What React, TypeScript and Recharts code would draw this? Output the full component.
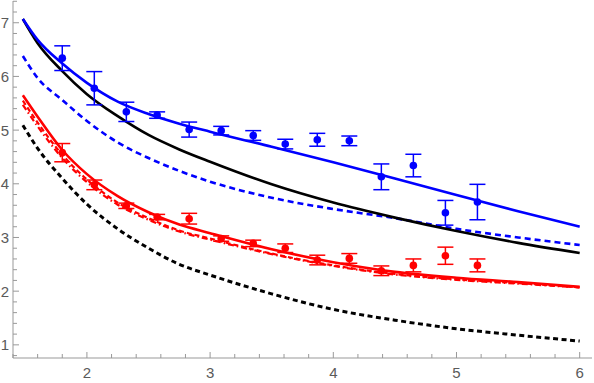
import React from "react";
import {
  ComposedChart,
  Line,
  Scatter,
  ErrorBar,
  XAxis,
  YAxis,
} from "recharts";

// Curve sample positions (x) and values
const curveX = [1.48, 1.6, 1.8, 2.0, 2.25, 2.5, 2.75, 3.0, 3.5, 4.0, 4.5, 5.0, 5.5, 6.0];
const blueSolid = [7.07, 6.68, 6.24, 5.88, 5.53, 5.3, 5.12, 4.97, 4.69, 4.4, 4.1, 3.79, 3.49, 3.2];
const blackSolid = [7.07, 6.62, 6.1, 5.67, 5.26, 4.91, 4.64, 4.41, 3.99, 3.65, 3.37, 3.12, 2.9, 2.71];
const blueDashed = [6.38, 5.97, 5.56, 5.17, 4.77, 4.48, 4.24, 4.04, 3.74, 3.53, 3.36, 3.16, 3.0, 2.86];
const redSolid = [5.65, 5.25, 4.63, 4.18, 3.77, 3.47, 3.24, 3.08, 2.78, 2.54, 2.36, 2.25, 2.17, 2.08];
const redDashed = [5.55, 5.14, 4.54, 4.08, 3.65, 3.36, 3.13, 2.98, 2.7, 2.48, 2.32, 2.22, 2.15, 2.07];
const redDotDash = [5.47, 5.07, 4.48, 4.03, 3.61, 3.33, 3.11, 2.96, 2.69, 2.47, 2.31, 2.21, 2.14, 2.07];
const blackDashed = [5.09, 4.66, 4.1, 3.62, 3.16, 2.8, 2.5, 2.3, 1.95, 1.66, 1.46, 1.3, 1.18, 1.07];

// Data points with error bars
const pointX = [1.8, 2.06, 2.32, 2.57, 2.83, 3.09, 3.35, 3.61, 3.87, 4.13, 4.39, 4.65, 4.91, 5.17];
const blueY = [6.34, 5.78, 5.34, 5.28, 5.01, 4.99, 4.9, 4.74, 4.82, 4.8, 4.13, 4.34, 3.46, 3.66];
const blueErr = [0.23, 0.31, 0.18, 0.06, 0.14, 0.08, 0.09, 0.09, 0.12, 0.09, 0.24, 0.21, 0.23, 0.33];
const redY = [4.58, 3.98, 3.59, 3.38, 3.35, 2.98, 2.89, 2.8, 2.58, 2.61, 2.38, 2.48, 2.66, 2.48];
const redErr = [0.17, 0.09, 0.05, 0.05, 0.1, 0.05, 0.06, 0.08, 0.09, 0.09, 0.09, 0.12, 0.16, 0.12];

// Ticks (major + minor)
const xTicks = [1.4, 1.6, 1.8, 2, 2.2, 2.4, 2.6, 2.8, 3, 3.2, 3.4, 3.6, 3.8, 4, 4.2, 4.4, 4.6, 4.8, 5, 5.2, 5.4, 5.6, 5.8, 6];
const yTicks = [0.8, 1, 1.2, 1.4, 1.6, 1.8, 2, 2.2, 2.4, 2.6, 2.8, 3, 3.2, 3.4, 3.6, 3.8, 4, 4.2, 4.4, 4.6, 4.8, 5, 5.2, 5.4, 5.6, 5.8, 6, 6.2, 6.4, 6.6, 6.8, 7, 7.2, 7.4];

const X_DOMAIN: [number, number] = [1.4, 6.1];
const Y_DOMAIN: [number, number] = [0.755, 7.405];

const curveData = curveX.map((x, i) => ({
  x,
  blueSolid: blueSolid[i],
  blackSolid: blackSolid[i],
  blueDashed: blueDashed[i],
  redSolid: redSolid[i],
  redDashed: redDashed[i],
  redDotDash: redDotDash[i],
  blackDashed: blackDashed[i],
}));
const blueData = pointX.map((x, i) => ({ x, y: blueY[i], err: blueErr[i] }));
const redData = pointX.map((x, i) => ({ x, y: redY[i], err: redErr[i] }));

const TICK_COLOR = "#999";
const LABEL_COLOR = "#5a5a5a";
const FONT = "'Liberation Sans', Arial, sans-serif";

const isMajor = (v: number) => Math.abs(v - Math.round(v)) < 0.01;

const makeTick = (side: "left" | "right" | "top" | "bottom") => (props: any) => {
  const { x, y, payload } = props;
  const v = payload.value as number;
  const major = isMajor(v);
  const len = major ? 6 : 4;
  if (side === "left") {
    return (
      <g>
        <line x1={x} x2={x + len} y1={y} y2={y} stroke={TICK_COLOR} strokeWidth={1} />
        {major && (
          <text x={x - 4} y={y + 5.5} textAnchor="end" fill={LABEL_COLOR} fontSize={15} fontFamily={FONT}>
            {Math.round(v)}
          </text>
        )}
      </g>
    );
  }
  if (side === "right") {
    return <line x1={x} x2={x - len} y1={y} y2={y} stroke={TICK_COLOR} strokeWidth={1} />;
  }
  if (side === "top") {
    return <line x1={x} x2={x} y1={y} y2={y + len} stroke={TICK_COLOR} strokeWidth={1} />;
  }
  return (
    <g>
      <line x1={x} x2={x} y1={y} y2={y - len} stroke={TICK_COLOR} strokeWidth={1} />
      {major && (
        <text x={x} y={y + 20} textAnchor="middle" fill={LABEL_COLOR} fontSize={15} fontFamily={FONT}>
          {Math.round(v)}
        </text>
      )}
    </g>
  );
};

const Dot = (color: string) => (props: any) => {
  const { cx, cy } = props;
  return <circle cx={cx} cy={cy} r={3.8} fill={color} />;
};

export default function App() {
  return (
    <div style={{ position: "absolute", left: 0, top: 0, background: "#fff" }}>
      <ComposedChart
        width={594}
        height={383}
        data={curveData}
        margin={{ top: 1, right: 2, bottom: 0, left: 0 }}
      >
        <XAxis
          xAxisId="b"
          dataKey="x"
          type="number"
          domain={X_DOMAIN}
          ticks={xTicks}
          allowDataOverflow
          interval={0}
          height={25}
          tickSize={0}
          tickMargin={0}
          tick={makeTick("bottom")}
          axisLine={{ stroke: TICK_COLOR }}
          tickLine={false}
        />
        <XAxis
          xAxisId="t"
          orientation="top"
          dataKey="x"
          type="number"
          domain={X_DOMAIN}
          ticks={xTicks}
          allowDataOverflow
          interval={0}
          height={0}
          tickSize={0}
          tickMargin={0}
          tick={makeTick("top")}
          axisLine={{ stroke: TICK_COLOR }}
          tickLine={false}
        />
        <YAxis
          yAxisId="l"
          type="number"
          domain={Y_DOMAIN}
          ticks={yTicks}
          allowDataOverflow
          interval={0}
          width={13}
          tickSize={0}
          tickMargin={0}
          tick={makeTick("left")}
          axisLine={{ stroke: TICK_COLOR }}
          tickLine={false}
        />
        <YAxis
          yAxisId="r"
          orientation="right"
          type="number"
          domain={Y_DOMAIN}
          ticks={yTicks}
          allowDataOverflow
          interval={0}
          width={0}
          tickSize={0}
          tickMargin={0}
          tick={makeTick("right")}
          axisLine={{ stroke: TICK_COLOR }}
          tickLine={false}
        />

        <Line xAxisId="b" yAxisId="l" type="monotone" dataKey="blackDashed" stroke="#000" strokeWidth={3} strokeDasharray="5 3.5" dot={false} isAnimationActive={false} />
        <Line xAxisId="b" yAxisId="l" type="monotone" dataKey="redDotDash" stroke="#ff0000" strokeWidth={2.2} strokeDasharray="6 3 1.5 3" dot={false} isAnimationActive={false} />
        <Line xAxisId="b" yAxisId="l" type="monotone" dataKey="redDashed" stroke="#ff0000" strokeWidth={2.2} strokeDasharray="5 3" dot={false} isAnimationActive={false} />
        <Line xAxisId="b" yAxisId="l" type="monotone" dataKey="redSolid" stroke="#ff0000" strokeWidth={2.6} dot={false} isAnimationActive={false} />
        <Line xAxisId="b" yAxisId="l" type="monotone" dataKey="blueDashed" stroke="#0000ff" strokeWidth={2.6} strokeDasharray="6 4" dot={false} isAnimationActive={false} />
        <Line xAxisId="b" yAxisId="l" type="monotone" dataKey="blackSolid" stroke="#000" strokeWidth={2.6} dot={false} isAnimationActive={false} />
        <Line xAxisId="b" yAxisId="l" type="monotone" dataKey="blueSolid" stroke="#0000ff" strokeWidth={2.6} dot={false} isAnimationActive={false} />

        <Scatter xAxisId="b" yAxisId="l" data={redData} dataKey="y" fill="#ff0000" shape={Dot("#ff0000")} isAnimationActive={false}>
          <ErrorBar dataKey="err" direction="y" width={8} stroke="#ff0000" strokeWidth={1.5} />
        </Scatter>
        <Scatter xAxisId="b" yAxisId="l" data={blueData} dataKey="y" fill="#0000ff" shape={Dot("#0000ff")} isAnimationActive={false}>
          <ErrorBar dataKey="err" direction="y" width={8} stroke="#0000ff" strokeWidth={1.5} />
        </Scatter>
      </ComposedChart>
    </div>
  );
}
